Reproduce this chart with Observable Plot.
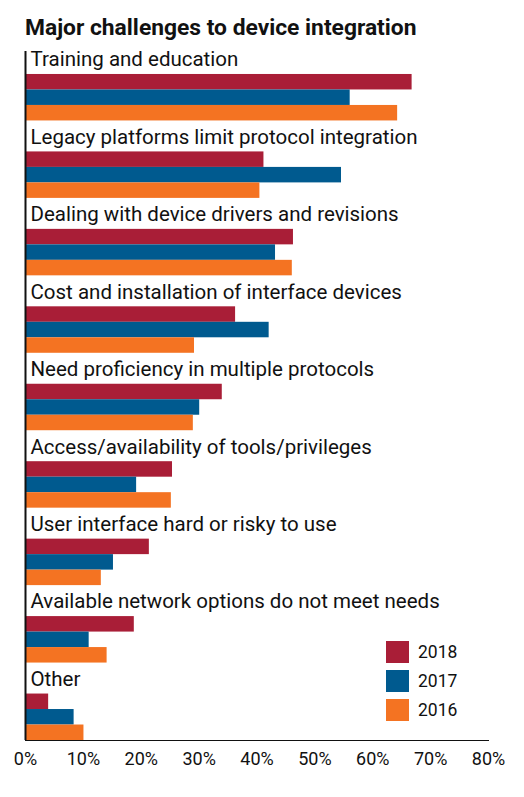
<!DOCTYPE html>
<html>
<head>
<meta charset="utf-8">
<script src="https://cdn.jsdelivr.net/npm/d3@7"></script>
<script src="https://cdn.jsdelivr.net/npm/@observablehq/plot@0.6"></script>
<style>
  body { margin: 0; background: #fff; font-family: Roboto, sans-serif; }
  #wrap { position: relative; width: 524px; }
  #title { height: 43px; box-sizing: border-box; padding: 15px 0 0 25px; font: bold 22.8px Roboto, sans-serif; color: #111; line-height: 26px; }
  #legend { position: absolute; left: 386px; top: 637.5px; }
  .row { display: flex; align-items: center; height: 29px; font-size: 17.5px; color: #111; }
  .sw { width: 23px; height: 22px; margin-right: 9px; }
</style>
</head>
<body>
<div id="wrap">
  <div id="title">Major challenges to device integration</div>
  <div id="chart"></div>
  <div id="legend"></div>
</div>
<script>
// categories top to bottom
const categories = [
  "Training and education",
  "Legacy platforms limit protocol integration",
  "Dealing with device drivers and revisions",
  "Cost and installation of interface devices",
  "Need proficiency in multiple protocols",
  "Access/availability of tools/privileges",
  "User interface hard or risky to use",
  "Available network options do not meet needs",
  "Other"
]
const years = ["2018", "2017", "2016"]
const colors = ["#a91e37", "#005a8f", "#f47322"]

// percent of respondents
const v2018 = [66.8, 41.2, 46.3, 36.3, 34.0, 25.4, 21.4, 18.8, 4.0]
const v2017 = [56.1, 54.6, 43.2, 42.1, 30.1, 19.2, 15.2, 11.0, 8.4]
const v2016 = [64.3, 40.5, 46.1, 29.2, 29.0, 25.2, 13.1, 14.1, 10.1]
const xTicks = [0, 10, 20, 30, 40, 50, 60, 70, 80]

const series = {"2018": v2018, "2017": v2017, "2016": v2016}
let data = []
categories.forEach((c, i) => {
  years.forEach(y => data.push({category: c, year: y, value: series[y][i]}))
})

// two blank bands for the label, then one band per year
let yDomain = []
categories.forEach(c => {
  yDomain.push(c + "|l1", c + "|l2")
  years.forEach(y => yDomain.push(c + "|" + y))
})

let chart = Plot.plot({
  width: 524,
  height: 737,
  marginLeft: 25,
  marginRight: 36,
  marginTop: 0,
  marginBottom: 40,
  style: {
    fontFamily: "Roboto, sans-serif",
    fontSize: "18px",
    color: "#111",
    background: "#fff"
  },
  x: {
    domain: [0, 80],
    ticks: xTicks,
    tickFormat: d => d + "%",
    tickSize: 0,
    tickPadding: 12,
    line: true,
    label: null
  },
  y: {
    domain: yDomain,
    padding: 0,
    round: false,
    axis: null
  },
  color: {domain: years, range: colors},
  marks: [
    Plot.barX(data, {
      x: "value",
      y: d => d.category + "|" + d.year,
      fill: "year"
    }),
    Plot.text(categories, {
      x: 0,
      y: d => d + "|l2",
      text: d => d,
      textAnchor: "start",
      dx: 5,
      dy: -7,
      fontSize: 20.5,
      fill: "#111"
    }),
    Plot.ruleX([0], {strokeWidth: 2, stroke: "#111", insetTop: 8})
  ]
})
d3.select("#chart").append(() => chart)

let legend = d3.select("#legend")
years.forEach((y, i) => {
  let row = legend.append("div").attr("class", "row")
  row.append("div").attr("class", "sw").style("background", colors[i])
  row.append("span").text(y)
})
</script>
</body>
</html>
